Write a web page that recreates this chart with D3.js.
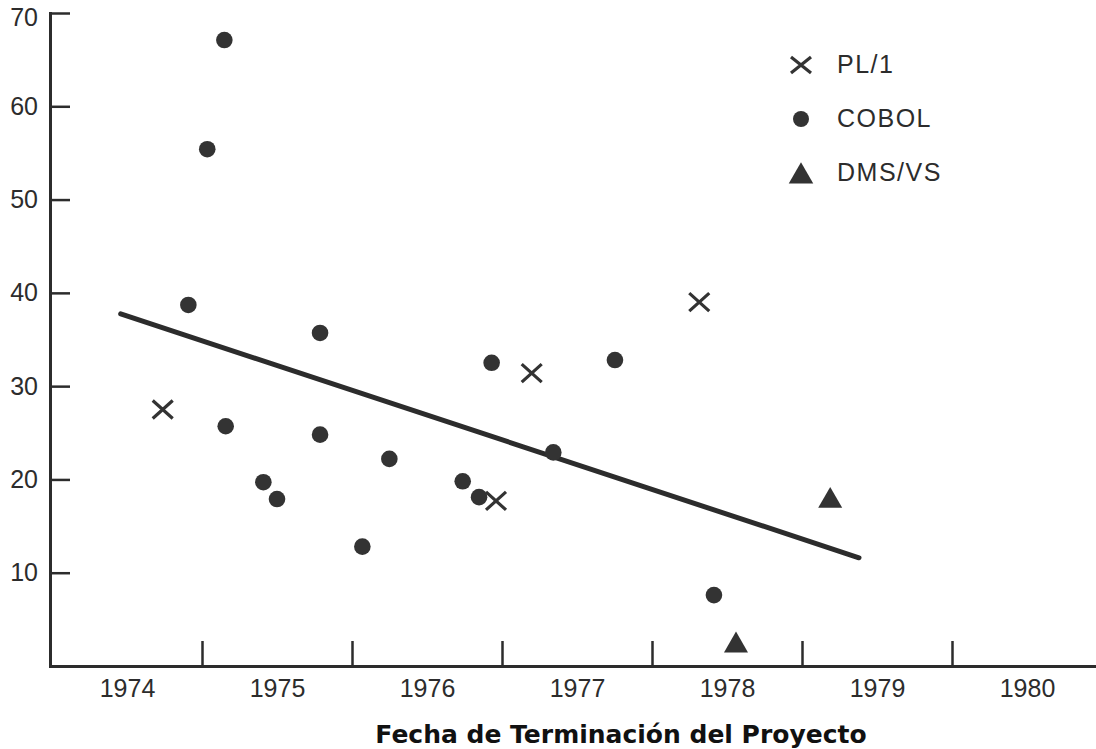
<!DOCTYPE html>
<html><head><meta charset="utf-8">
<script src="https://cdn.jsdelivr.net/npm/d3@7"></script>
<style>html,body{margin:0;padding:0;background:#fff;} svg{display:block}</style>
</head><body>
<script>
// ---- data ----
const yearTicks = [1975, 1976, 1977, 1978, 1979, 1980];
const yearLabels = [1974, 1975, 1976, 1977, 1978, 1979, 1980];
const yTicks = [10, 20, 30, 40, 50, 60, 70];
const seriesNames = ["PL/1", "COBOL", "DMS/VS"];

const cobolX = [1975.149, 1975.035, 1974.909, 1975.158, 1975.409, 1975.500, 1975.787, 1975.787,
                1976.069, 1976.249, 1976.738, 1976.847, 1976.931, 1977.342, 1977.753, 1978.413];
const cobolY = [67.1, 55.4, 38.7, 25.7, 19.7, 17.9, 35.7, 24.8,
                12.8, 22.2, 19.8, 18.1, 32.5, 22.9, 32.8, 7.6];

const pl1X = [1974.738, 1976.960, 1977.198, 1978.315];
const pl1Y = [27.5, 17.7, 31.4, 39.0];

const dmsX = [1979.188, 1978.560];
const dmsY = [17.7, 2.2];

const trendX = [1974.458, 1979.380];
const trendY = [37.75, 11.6];

const xTitle = "Fecha de Terminación del Proyecto";

// ---- drawing ----
const W = 1096, H = 749;
const ink = "#2c2c2c";
const svg = d3.select("body").append("svg").attr("width", W).attr("height", H);

const x = d3.scaleLinear().domain([1974, 1981]).range([52, 1102]);
const y = d3.scaleLinear().domain([0, 70]).range([666, 13]);

// y axis (ticks pointing inward)
const gy = svg.append("g").attr("transform", "translate(50,0)")
  .call(d3.axisLeft(y).tickValues(yTicks).tickSizeInner(-20).tickSizeOuter(0).tickPadding(12));
gy.select(".domain").attr("stroke", ink).attr("stroke-width", 3).attr("stroke-linecap", "square");
gy.selectAll(".tick line").attr("stroke", ink).attr("stroke-width", 2.5);
gy.selectAll(".tick text").attr("fill", ink)
  .style("font-family", "'Liberation Sans', Arial, sans-serif").style("font-size", "25px")
  .attr("dy", d => d === 70 ? "0.5em" : "0.32em");

// x axis (ticks at year boundaries, pointing inward)
const gx = svg.append("g").attr("transform", "translate(0,666)")
  .call(d3.axisBottom(x).tickValues(yearTicks).tickSizeInner(-25).tickSizeOuter(0).tickFormat(""));
gx.select(".domain").attr("stroke", ink).attr("stroke-width", 3).attr("stroke-linecap", "square");
gx.selectAll(".tick line").attr("stroke", ink).attr("stroke-width", 2.5);

// x labels centred in each year
const gxl = svg.append("g").attr("transform", "translate(0,666)")
  .call(d3.axisBottom(x).tickValues(yearLabels.map(v => v + 0.5)).tickSize(0).tickPadding(13)
        .tickFormat(d => String(Math.floor(d))));
gxl.select(".domain").remove();
gxl.selectAll(".tick text").attr("fill", ink)
  .style("font-family", "'Liberation Sans', Arial, sans-serif").style("font-size", "25px");

// x title
svg.append("text")
  .attr("x", 621).attr("y", 743).attr("text-anchor", "middle")
  .style("font-family", "'DejaVu Sans', Verdana, sans-serif").style("font-weight", "bold")
  .style("font-size", "25px").attr("fill", "#111")
  .text(xTitle);

// trend line
svg.append("path")
  .datum(trendX.map((v, i) => [v, trendY[i]]))
  .attr("d", d3.line().x(d => x(d[0])).y(d => y(d[1])))
  .attr("stroke", ink).attr("stroke-width", 5).attr("stroke-linecap", "round").attr("fill", "none");

// COBOL circles
svg.append("g").selectAll("circle")
  .data(cobolX.map((v, i) => [v, cobolY[i]]))
  .join("circle")
  .attr("cx", d => x(d[0])).attr("cy", d => y(d[1])).attr("r", 8.3)
  .attr("fill", "#333");

// PL/1 crosses
const crossPath = "M-10,-9L10,9M-10,9L10,-9";
svg.append("g").selectAll("path")
  .data(pl1X.map((v, i) => [v, pl1Y[i]]))
  .join("path")
  .attr("transform", d => `translate(${x(d[0])},${y(d[1])})`)
  .attr("d", crossPath)
  .attr("stroke", "#333").attr("stroke-width", 3.2).attr("fill", "none");

// DMS/VS triangles
const tri = d3.symbol(d3.symbolTriangle, 250);
svg.append("g").selectAll("path")
  .data(dmsX.map((v, i) => [v, dmsY[i]]))
  .join("path")
  .attr("transform", d => `translate(${x(d[0])},${y(d[1])})`)
  .attr("d", tri())
  .attr("fill", "#333");

// legend
const legX = 801, legTextX = 837;
const legY = i => 65 + i * 54;
const leg = svg.append("g");
leg.append("path").attr("transform", `translate(${legX},${legY(0)})`)
  .attr("d", "M-10,-8L10,8M-10,8L10,-8").attr("stroke", "#333").attr("stroke-width", 3.2).attr("fill", "none");
leg.append("circle").attr("cx", legX).attr("cy", legY(1)).attr("r", 8).attr("fill", "#333");
leg.append("path").attr("transform", `translate(${legX},${legY(2) + 3.5})`)
  .attr("d", d3.symbol(d3.symbolTriangle, 260)()).attr("fill", "#333");
leg.selectAll("text").data(seriesNames).join("text")
  .attr("x", legTextX).attr("y", (d, i) => legY(i) + 8)
  .style("font-family", "'Liberation Sans', Arial, sans-serif").style("font-size", "25px")
  .style("letter-spacing", "1.5px")
  .attr("fill", ink)
  .text(d => d);
</script>
</body></html>
